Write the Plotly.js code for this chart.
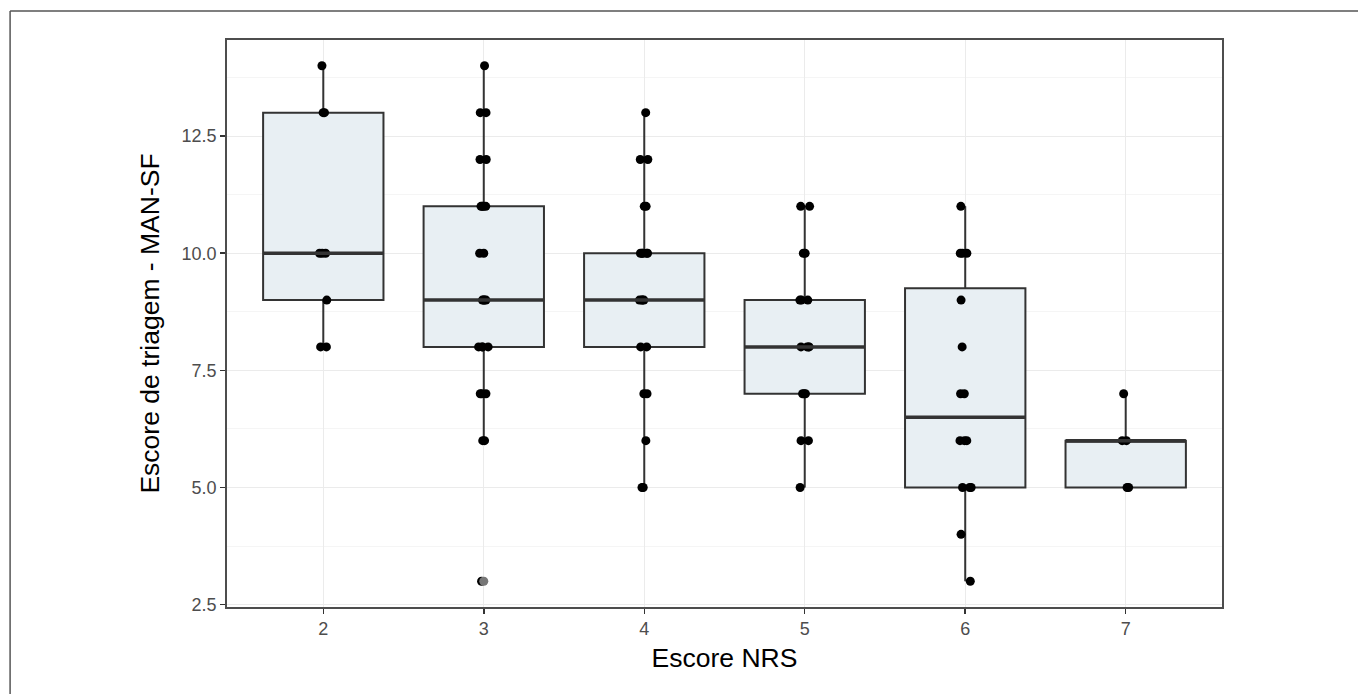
<!DOCTYPE html>
<html>
<head>
<meta charset="utf-8">
<script src="https://cdn.plot.ly/plotly-3.0.1.min.js"></script>
<style>
  html, body { margin: 0; padding: 0; background: #fff; }
  #chart { width: 1358px; height: 694px; }
</style>
</head>
<body>
<div id="chart"></div>
<script>
// ---- Data ----
const categories = [2, 3, 4, 5, 6, 7];
const tickLabels = ['2', '3', '4', '5', '6', '7'];
const nrs2 = [8, 8, 9, 10, 10, 10, 13, 13, 14];
const nrs3 = [3, 6, 6, 7, 7, 7, 8, 8, 8, 8, 9, 9, 9, 9, 10, 10, 11, 11, 11, 11, 12, 12, 13, 13, 14];
const nrs4 = [5, 5, 6, 7, 7, 8, 8, 9, 9, 9, 9, 10, 10, 10, 10, 10, 11, 11, 12, 12, 13];
const nrs5 = [5, 6, 6, 7, 7, 7, 8, 8, 8, 8, 9, 9, 9, 10, 10, 11, 11];
const nrs6 = [3, 4, 5, 5, 5, 6, 6, 6, 7, 7, 8, 9, 10, 10, 10, 11];
const nrs7 = [5, 5, 6, 6, 7];
const groups = [nrs2, nrs3, nrs4, nrs5, nrs6, nrs7];

const xTitle = 'Escore NRS';
const yTitle = 'Escore de triagem - MAN-SF';

// ---- Box statistics (R type-7 quantiles, Tukey whiskers as in ggplot2) ----
function quantile(sorted, p) {
  const h = (sorted.length - 1) * p;
  const lo = Math.floor(h);
  const hi = Math.min(lo + 1, sorted.length - 1);
  return sorted[lo] + (h - lo) * (sorted[hi] - sorted[lo]);
}
const q1 = [], med = [], q3 = [], lf = [], uf = [];
const outX = [], outY = [];
groups.forEach((g, i) => {
  const s = g.slice().sort((a, b) => a - b);
  const a = quantile(s, 0.25), m = quantile(s, 0.5), b = quantile(s, 0.75);
  const iqr = b - a;
  const inside = s.filter(v => v >= a - 1.5 * iqr && v <= b + 1.5 * iqr);
  q1.push(a); med.push(m); q3.push(b);
  lf.push(Math.min(...inside)); uf.push(Math.max(...inside));
  s.forEach(v => { if (v < a - 1.5 * iqr || v > b + 1.5 * iqr) { outX.push(categories[i]); outY.push(v); } });
});

const BOX_W = 0.75;
const lineCol = '#333333';

// median thick segments
const medX = [], medY = [];
categories.forEach((c, i) => {
  medX.push(c - BOX_W / 2, c + BOX_W / 2, null);
  medY.push(med[i], med[i], null);
});

// jittered points
const ptX = [], ptY = [];
groups.forEach((g, i) => g.forEach(v => { ptX.push(categories[i]); ptY.push(v); }));

const traces = [
  {
    type: 'box', x: categories, q1: q1, median: med, q3: q3,
    lowerfence: lf, upperfence: uf,
    boxpoints: false, width: BOX_W, whiskerwidth: 0,
    fillcolor: 'rgb(232,239,243)',
    line: { color: lineCol, width: 2 },
    hoverinfo: 'skip', showlegend: false
  },
  {
    type: 'scatter', mode: 'lines', x: medX, y: medY,
    line: { color: lineCol, width: 3.5 }, hoverinfo: 'skip', showlegend: false
  },
  {
    type: 'scatter', mode: 'markers', x: outX, y: outY,
    marker: { color: '#777777', size: 9 }, hoverinfo: 'skip', showlegend: false
  },
  {
    type: 'box', x: ptX, y: ptY, width: BOX_W,
    boxpoints: 'all', jitter: 0.1, pointpos: 0,
    fillcolor: 'rgba(0,0,0,0)', line: { color: 'rgba(0,0,0,0)', width: 0 },
    marker: { color: '#000000', size: 9, line: { width: 0 } },
    hoverinfo: 'skip', showlegend: false
  }
];

const font = 'Liberation Sans, Arial, sans-serif';
const layout = {
  width: 1358, height: 694,
  margin: { l: 227, r: 136, t: 40, b: 87 },
  paper_bgcolor: '#ffffff', plot_bgcolor: '#ffffff',
  font: { family: font },
  boxmode: 'overlay',
  showlegend: false,
  xaxis: {
    range: [1.4, 7.6], tickvals: categories, ticktext: tickLabels,
    showgrid: true, gridcolor: '#ebebeb', gridwidth: 1, zeroline: false,
    ticks: 'outside', ticklen: 5, tickwidth: 1.5, tickcolor: '#333',
    tickfont: { size: 18, color: '#4d4d4d', family: font },
    showline: true, mirror: true, linecolor: '#4d4d4d', linewidth: 1.8,
    title: { text: xTitle, font: { size: 26.5, color: '#000', family: font }, standoff: 10 }
  },
  yaxis: {
    range: [2.45, 14.55], tick0: 2.5, dtick: 2.5, tickformat: '.1f',
    showgrid: true, gridcolor: '#ebebeb', gridwidth: 1, zeroline: false,
    minor: { tick0: 2.5, dtick: 1.25, showgrid: true, gridcolor: '#f5f5f5', gridwidth: 1, ticks: '' },
    ticks: 'outside', ticklen: 5, tickwidth: 1.5, tickcolor: '#333',
    tickfont: { size: 18, color: '#4d4d4d', family: font },
    showline: true, mirror: true, linecolor: '#4d4d4d', linewidth: 1.8,
    title: { text: yTitle, font: { size: 26.5, color: '#000', family: font }, standoff: 14 }
  },
  shapes: [
    { type: 'line', xref: 'paper', yref: 'paper', x0: -0.218, x1: 1.2, y0: 1.0511, y1: 1.0511,
      line: { color: '#555', width: 1.5 } },
    { type: 'line', xref: 'paper', yref: 'paper', x0: -0.218, x1: -0.218, y0: 1.0511, y1: -0.2,
      line: { color: '#555', width: 1.5 } }
  ]
};

Plotly.newPlot('chart', traces, layout, { displayModeBar: false, staticPlot: true });
</script>
</body>
</html>
